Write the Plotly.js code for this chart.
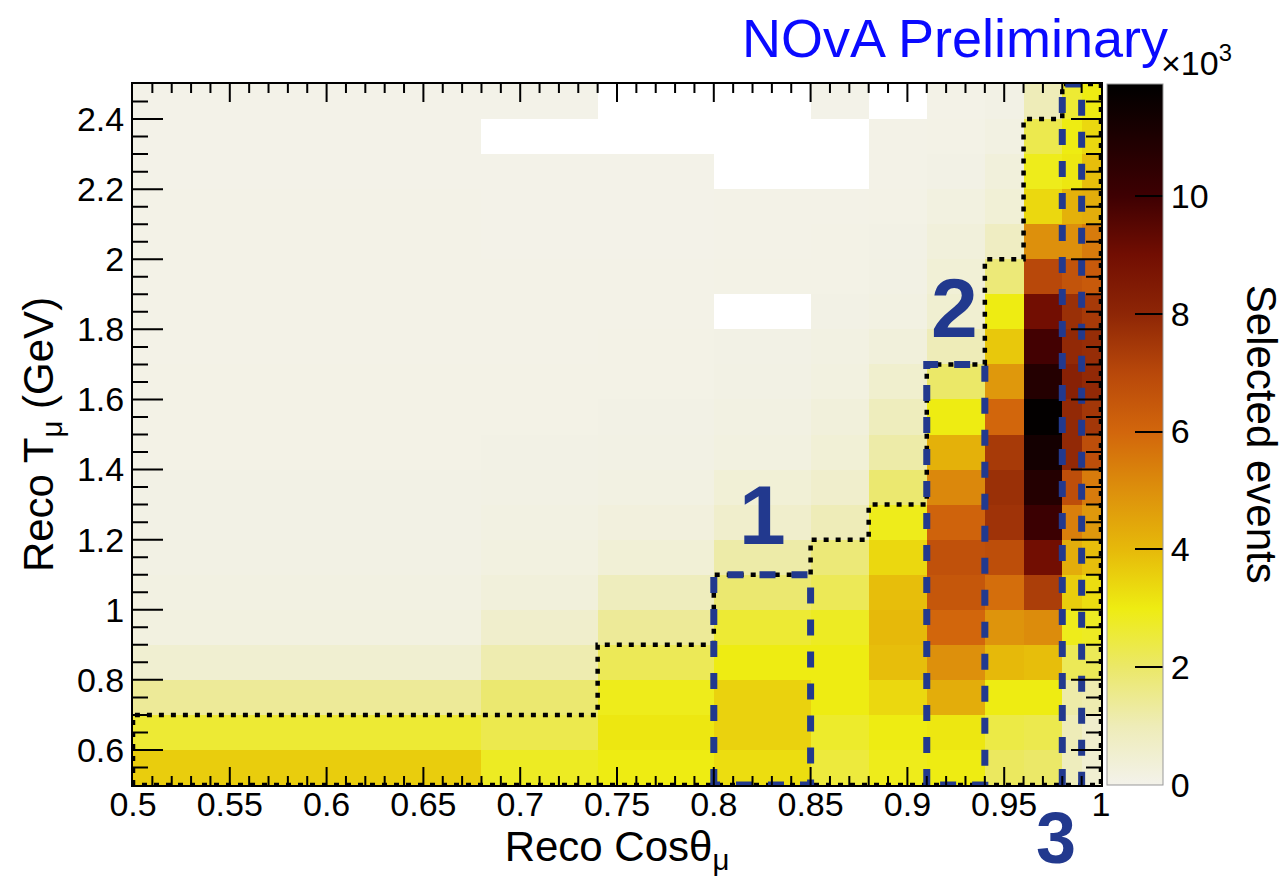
<!DOCTYPE html>
<html>
<head>
<meta charset="utf-8">
<script src="https://cdn.plot.ly/plotly-3.0.1.min.js"></script>
<style>
  html, body { margin: 0; padding: 0; background: #ffffff; }
  #chart { width: 1287px; height: 885px; }
</style>
</head>
<body>
<div id="chart"></div>
<script>
// ---- Bin edges ----
const cosEdges = [0.5, 0.68, 0.74, 0.80, 0.85, 0.88, 0.91, 0.94, 0.96, 0.98, 0.99, 1.0];
const tEdges = [0.5, 0.6, 0.7, 0.8, 0.9, 1.0, 1.1, 1.2, 1.3, 1.4, 1.5, 1.6, 1.7, 1.8, 1.9, 2.0, 2.1, 2.2, 2.3, 2.4, 2.5];

// ---- Selected events per cosθ column (thousands), rows from T=0.5 upward; null = empty bin ----
const colA = [3.6, 2.6, 1.4, 0.5, 0.2, 0.15, 0.12, 0.1, 0.1, 0.08, 0.08, 0.07, 0.06, 0.06, 0.05, 0.05, 0.05, 0.04, 0.04, 0.04];
const colB = [2.8, 2.3, 1.9, 1.1, 0.6, 0.3, 0.2, 0.15, 0.12, 0.1, 0.08, 0.07, 0.06, 0.05, 0.05, 0.04, 0.04, 0.03, null, 0.03];
const colC = [3.0, 3.1, 2.9, 2.2, 1.4, 0.9, 0.4, 0.25, 0.15, 0.12, 0.1, 0.08, 0.07, 0.06, 0.05, 0.04, 0.04, 0.03, null, null];
const colD = [3.3, 3.5, 3.5, 3.0, 2.6, 1.9, 1.2, 0.6, 0.4, 0.2, 0.15, 0.12, 0.1, null, 0.08, 0.06, 0.05, null, null, null];
const colE = [2.5, 2.7, 3.0, 3.0, 2.8, 2.2, 1.8, 1.0, 0.6, 0.4, 0.3, 0.2, 0.15, 0.1, 0.08, 0.07, 0.06, null, null, 0.03];
const colF = [2.9, 3.0, 3.4, 3.9, 4.0, 3.9, 3.4, 2.9, 1.9, 1.2, 0.9, 0.55, 0.3, 0.15, 0.12, 0.1, 0.08, 0.06, 0.05, null];
const colG = [3.0, 3.1, 4.3, 5.0, 6.0, 6.5, 6.7, 6.1, 5.2, 4.2, 3.0, 2.0, 1.0, 0.5, 0.4, 0.3, 0.2, 0.1, 0.08, 0.05];
const colH = [2.1, 2.4, 3.0, 4.0, 4.9, 5.8, 6.8, 7.6, 7.7, 7.4, 6.0, 4.8, 3.7, 3.0, 1.8, 0.8, 0.4, 0.3, 0.15, 0.1];
const colI = [2.0, 2.3, 3.0, 3.9, 5.1, 7.3, 9.0, 10.1, 10.8, 11.3, 11.8, 10.8, 9.9, 9.0, 7.0, 5.0, 3.4, 2.9, 2.3, 1.0];
const colJ = [0.9, 1.0, 1.2, 2.2, 2.9, 3.6, 4.3, 5.4, 6.8, 7.9, 7.9, 8.2, 7.9, 7.7, 6.6, 5.0, 4.2, 3.1, 3.0, 2.6];
const colK = [0.5, 0.6, 1.1, 2.2, 2.8, 3.3, 3.9, 4.8, 5.5, 6.8, 7.5, 7.9, 7.8, 7.4, 6.4, 5.5, 4.3, 3.9, 3.4, 3.0];
const columns = [colA, colB, colC, colD, colE, colF, colG, colH, colI, colJ, colK];

// ---- Colour bar ticks ----
const cbTickVals = [0, 2000, 4000, 6000, 8000, 10000];
const cbTickText = ["0", "2", "4", "6", "8", "10"];
const zMax = 11900;

// ---- Selection boundary (dotted) and analysis regions (dashed) ----
const boundaryCos = [0.5, 0.5, 0.74, 0.74, 0.80, 0.80, 0.85, 0.85, 0.88, 0.88, 0.91, 0.91, 0.94, 0.94, 0.96, 0.96, 0.98, 0.98, 1.0, 1.0, 0.5];
const boundaryT   = [0.5, 0.7, 0.7, 0.9, 0.9, 1.1, 1.1, 1.2, 1.2, 1.3, 1.3, 1.7, 1.7, 2.0, 2.0, 2.4, 2.4, 2.5, 2.5, 0.5, 0.5];
const region1 = { cos: [0.80, 0.85], t: [0.5, 1.1], label: "1" };
const region2 = { cos: [0.91, 0.94], t: [0.5, 1.7], label: "2" };
const region3 = { cos: [0.98, 0.99], t: [0.5, 2.5], label: "3" };

const z = tEdges.slice(0, -1).map((_, r) => columns.map(c => c[r] === null ? null : c[r] * 1000));

const colorscale = [
  [0.000, "#f3f2ea"], [0.084, "#eeecb8"], [0.168, "#ebe868"], [0.252, "#eeec12"],
  [0.336, "#e6b90a"], [0.420, "#dd900c"], [0.504, "#d2660c"], [0.588, "#b8480a"],
  [0.672, "#8e2606"], [0.756, "#720e02"], [0.840, "#3e0002"], [1.000, "#000000"]
];

const FONT = "Liberation Sans, Arial, Helvetica, sans-serif";
const BLUE = "#22398e";

function boxTrace(reg) {
  return {
    type: "scatter", mode: "lines",
    x: [reg.cos[0], reg.cos[0], reg.cos[1], reg.cos[1], reg.cos[0]],
    y: [reg.t[0], reg.t[1], reg.t[1], reg.t[0], reg.t[0]],
    line: { color: BLUE, width: 7, dash: "16px,16px" },
    hoverinfo: "skip", showlegend: false
  };
}

const traces = [
  {
    type: "heatmap", x: cosEdges, y: tEdges, z: z,
    zmin: 0, zmax: zMax, colorscale: colorscale, hoverongaps: false,
    colorbar: {
      x: 1.006, xanchor: "left", xpad: 0, y: 0.5, yanchor: "middle", ypad: 0,
      len: 1, lenmode: "fraction", thickness: 56, thicknessmode: "pixels",
      tickvals: cbTickVals, ticktext: cbTickText,
      ticks: "inside", ticklen: 28, tickwidth: 2, tickcolor: "black",
      tickfont: { family: FONT, size: 34, color: "#000" },
      outlinewidth: 1, outlinecolor: "#999"
    }
  },
  {
    type: "scatter", mode: "lines", x: boundaryCos, y: boundaryT,
    line: { color: "#000", width: 4.5, dash: "5px,7px" },
    hoverinfo: "skip", showlegend: false
  },
  boxTrace(region1), boxTrace(region2), boxTrace(region3)
];

const layout = {
  width: 1287, height: 885,
  margin: { l: 133, r: 186, t: 84, b: 100 },
  paper_bgcolor: "#ffffff", plot_bgcolor: "#ffffff",
  font: { family: FONT, color: "#000" },
  showlegend: false,
  xaxis: {
    range: [0.5, 1.0], tick0: 0.5, dtick: 0.05,
    ticks: "inside", ticklen: 18, tickwidth: 2, tickcolor: "black",
    minor: { dtick: 0.01, ticks: "inside", ticklen: 9, tickwidth: 2, tickcolor: "black" },
    mirror: "allticks", showline: true, linecolor: "black", linewidth: 2, layer: "above traces",
    showgrid: false, zeroline: false, ticklabelstandoff: -12,
    tickfont: { family: FONT, size: 34 },
    title: { text: "Reco Cosθ<sub>μ</sub>", font: { family: FONT, size: 42 }, standoff: 4 }
  },
  yaxis: {
    range: [0.5, 2.5], tick0: 0, dtick: 0.2,
    ticks: "inside", ticklen: 30, tickwidth: 2, tickcolor: "black",
    minor: { dtick: 0.05, ticks: "inside", ticklen: 15, tickwidth: 2, tickcolor: "black" },
    mirror: "allticks", showline: true, linecolor: "black", linewidth: 2, layer: "above traces",
    showgrid: false, zeroline: false,
    tickfont: { family: FONT, size: 34 },
    title: { text: "Reco T<sub>μ</sub> (GeV)", font: { family: FONT, size: 42 }, standoff: 10 }
  },
  annotations: [
    { text: "NOvA Preliminary", xref: "paper", yref: "paper", x: 1.071, y: 1.066,
      xanchor: "right", yanchor: "middle", showarrow: false,
      font: { family: FONT, size: 54, color: "#0a0aff" } },
    { text: "×10<sup>3</sup>", xref: "paper", yref: "paper", x: 1.06, y: 1.0,
      xanchor: "left", yanchor: "bottom", showarrow: false,
      font: { family: FONT, size: 34, color: "#000" } },
    { text: "Selected events", xref: "paper", yref: "paper", x: 1.166, y: 0.5,
      xanchor: "center", yanchor: "middle", textangle: 90, showarrow: false,
      font: { family: FONT, size: 42, color: "#000" } },
    { text: "<b>" + region1.label + "</b>", xref: "x", yref: "y", x: 0.825, y: 1.27,
      xanchor: "center", yanchor: "middle",
      showarrow: false, font: { family: FONT, size: 84, color: BLUE } },
    { text: "<b>" + region2.label + "</b>", xref: "x", yref: "y", x: 0.9245, y: 1.86,
      xanchor: "center", yanchor: "middle",
      showarrow: false, font: { family: FONT, size: 84, color: BLUE } },
    { text: "<b>" + region3.label + "</b>", xref: "x", yref: "paper", x: 0.977, y: -0.076,
      xanchor: "center", yanchor: "middle",
      showarrow: false, font: { family: FONT, size: 72, color: BLUE } }
  ]
};

Plotly.newPlot("chart", traces, layout, { displayModeBar: false, staticPlot: true }).then(gd => {
  // render tick marks without edge snapping so thin vertical ticks stay visible
  gd.querySelectorAll("path.xtick, path.ytick").forEach(p => { p.style.shapeRendering = "geometricPrecision"; });
});
</script>
</body>
</html>
